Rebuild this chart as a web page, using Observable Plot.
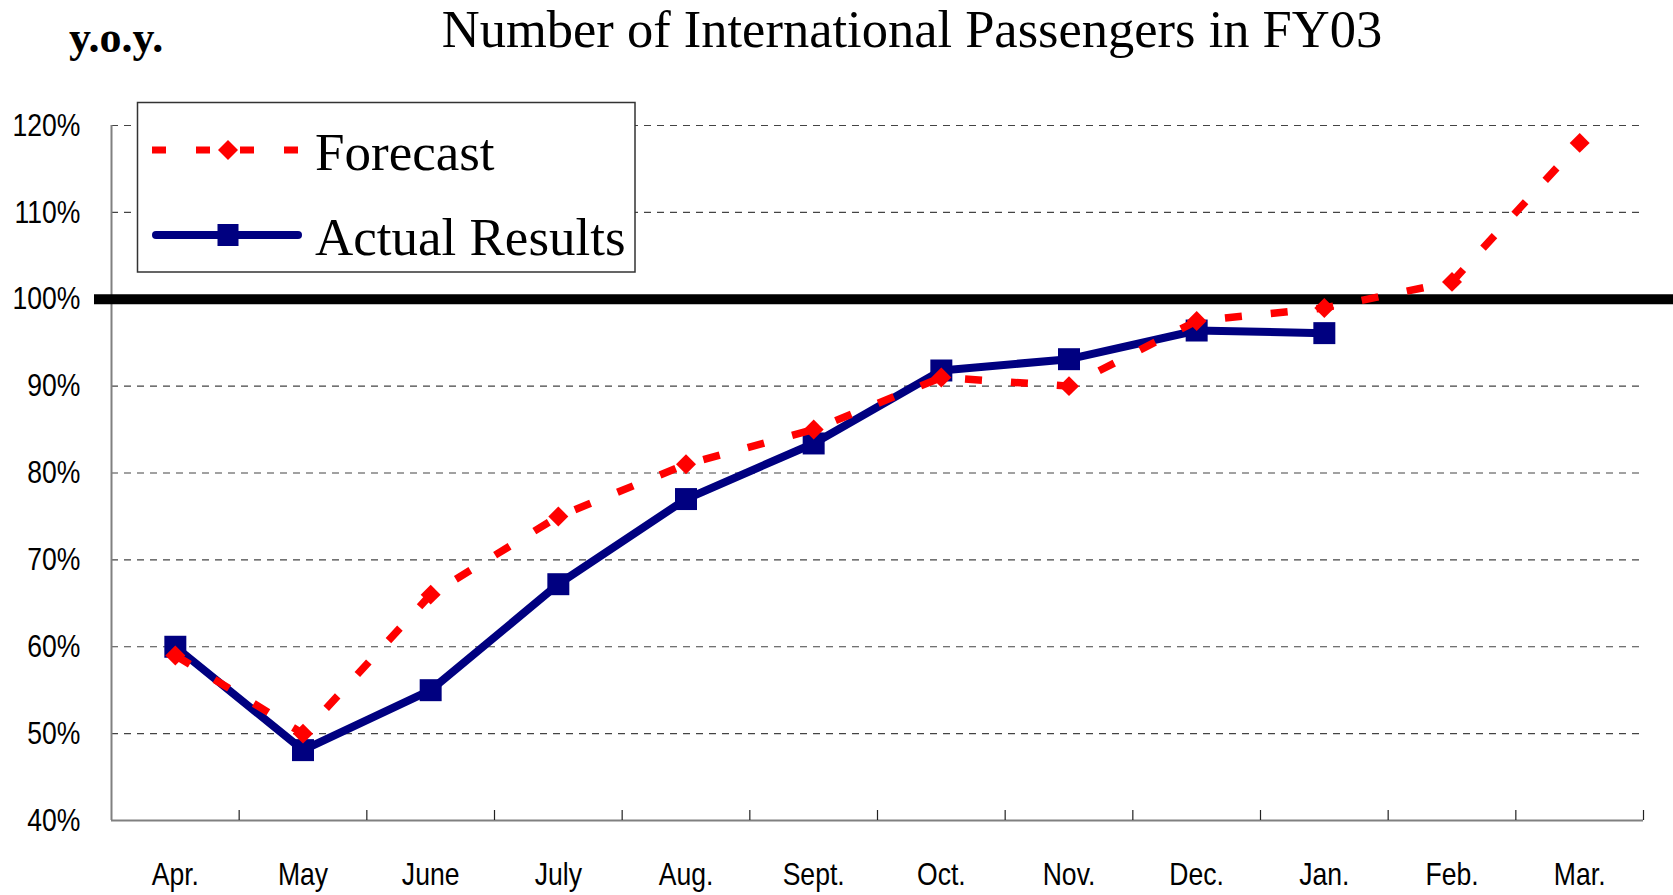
<!DOCTYPE html>
<html><head><meta charset="utf-8">
<script src="https://cdn.jsdelivr.net/npm/d3@7"></script>
<script src="https://cdn.jsdelivr.net/npm/@observablehq/plot@0.6"></script>
<style>body{margin:0;background:#fff} svg{display:block}</style>
</head><body><div id="chart"></div>
<script>
const months = ["Apr.","May","June","July","Aug.","Sept.","Oct.","Nov.","Dec.","Jan.","Feb.","Mar."];
const forecast = [59, 50, 66, 75, 81, 85, 91, 90, 97.5, 99, 102, 118];
const actual = [60, 48.1, 55, 67.2, 77, 83.4, 91.8, 93.1, 96.4, 96.1];
const yTicks = [40, 50, 60, 70, 80, 90, 100, 110, 120];
const gridValues = [50, 60, 70, 80, 90, 110, 120];
const referenceValue = [100];
const titleText = "Number of International Passengers in FY03";
const unitText = "y.o.y.";
const seriesNames = ["Forecast", "Actual Results"];

const forecastRows = forecast.map((v, i) => ({i, v}));
const actualRows = actual.map((v, i) => ({i, v}));
const boundaries = months.map((_, i) => i + 0.5);

const RED = "#FF0000", NAVY = "#000080";
const SANS = "'Liberation Sans Narrow', 'Arial Narrow', 'Liberation Sans', Arial, sans-serif";
const SERIF = "'Liberation Serif', 'Times New Roman', serif";

const chart = Plot.plot({
  width: 1673, height: 895,
  marginLeft: 111, marginRight: 30, marginTop: 125, marginBottom: 75,
  style: {fontFamily: SANS, fontSize: "32px", color: "#000", background: "#fff"},
  x: {type: "linear", domain: [-0.5, months.length - 0.5]},
  y: {domain: [40, 120]},
  marks: [
    Plot.ruleY(gridValues, {stroke: "#444", strokeWidth: 1.2, strokeDasharray: "7,6"}),
    Plot.ruleX([-0.5], {y1: 40, y2: 120, stroke: "#808080", strokeWidth: 2}),
    Plot.ruleY([40], {stroke: "#808080", strokeWidth: 2}),
    Plot.ruleX(boundaries, {y1: 40, y2: 40, insetTop: -10, stroke: "#222", strokeWidth: 1.2}),
    Plot.ruleY(referenceValue, {stroke: "#000", strokeWidth: 10, insetLeft: -17, insetRight: -30}),
    Plot.axisY({ticks: yTicks, tickFormat: d => d + "%", tickSize: 0, tickPadding: 31, label: null, fontSize: 32, fill: "#000"}),
    Plot.axisX({ticks: d3.range(months.length), tickFormat: i => months[i], tickSize: 0, tickPadding: 42, label: null, fontSize: 32, fill: "#000"}),
    Plot.line(actualRows, {x: "i", y: "v", stroke: NAVY, strokeWidth: 8, strokeLinejoin: "round"}),
    Plot.dot(actualRows, {x: "i", y: "v", symbol: "square", r: 12.4, fill: NAVY, stroke: "none"}),
    Plot.line(forecastRows, {x: "i", y: "v", stroke: RED, strokeWidth: 7.5, strokeDasharray: "17,29", strokeLinecap: "butt", strokeLinejoin: "miter"}),
    Plot.dot(forecastRows, {x: "i", y: "v", symbol: "diamond2", r: 9, fill: RED, stroke: "none"})
  ]
});

const svg = d3.select(chart);

// condense the Arial-like axis labels horizontally (the reference uses a narrow face)
const narrow = d3.select("body").append("svg").attr("width", 0).attr("height", 0);
const probe = narrow.append("text").style("font-family", SANS).style("font-size", "32px").text("120%");
const probeWidth = probe.node().getComputedTextLength();
narrow.remove();
const squeeze = Math.min(1, 68 / probeWidth);
svg.selectAll('g[aria-label$="tick label"] text').each(function() {
  const t = this.getAttribute("transform") || "";
  this.setAttribute("transform", t + ` scale(${squeeze},1)`);
});

svg.append("text").attr("x", 912).attr("y", 47).attr("text-anchor", "middle")
  .style("font-family", SERIF).style("font-size", "52.5px").attr("fill", "#000").text(titleText);
svg.append("text").attr("x", 69).attr("y", 52).attr("text-anchor", "start")
  .style("font-family", SERIF).style("font-size", "44px").style("font-weight", "bold").attr("fill", "#000").text(unitText);

const lg = svg.append("g").attr("text-anchor", "start");
lg.append("rect").attr("x", 137.5).attr("y", 102.5).attr("width", 497.5).attr("height", 169.5)
  .attr("fill", "#fff").attr("stroke", "#333").attr("stroke-width", 1.5);
lg.append("line").attr("x1", 152).attr("x2", 298).attr("y1", 150).attr("y2", 150)
  .attr("stroke", RED).attr("stroke-width", 7).attr("stroke-dasharray", "14,30");
lg.append("path").attr("transform", "translate(228,150)").attr("d", d3.symbol(d3.symbolDiamond2, Math.PI * 81)()).attr("fill", RED);
lg.append("line").attr("x1", 156).attr("x2", 298).attr("y1", 235).attr("y2", 235)
  .attr("stroke", NAVY).attr("stroke-width", 8).attr("stroke-linecap", "round");
lg.append("rect").attr("x", 217.5).attr("y", 224).attr("width", 21).attr("height", 22).attr("fill", NAVY);
lg.append("text").attr("x", 315).attr("y", 170).attr("text-anchor", "start").style("font-family", SERIF).style("font-size", "53px").attr("fill", "#000").text(seriesNames[0]);
lg.append("text").attr("x", 315).attr("y", 255).attr("text-anchor", "start").style("font-family", SERIF).style("font-size", "53px").attr("fill", "#000").text(seriesNames[1]);

document.getElementById("chart").appendChild(chart);
</script>
</body></html>
